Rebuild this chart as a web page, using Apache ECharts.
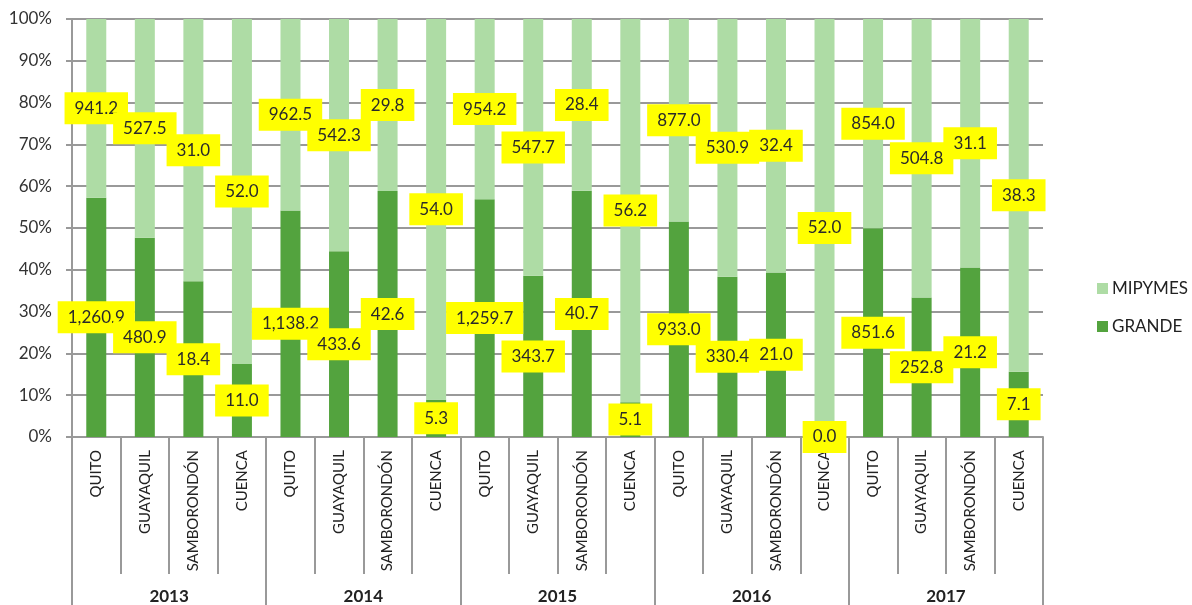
<!DOCTYPE html>
<html>
<head>
<meta charset="utf-8">
<script src="https://cdn.jsdelivr.net/npm/echarts@6/dist/echarts.min.js"></script>
<style>html,body{margin:0;padding:0;background:#fff;}#c{width:1192px;height:605px;}</style>
</head>
<body>
<div id="c"></div>
<script>
var years = ['2013', '2014', '2015', '2016', '2017'];
var cities = ['QUITO', 'GUAYAQUIL', 'SAMBORONDÓN', 'CUENCA'];
var grande = [1260.9, 480.9, 18.4, 11.0, 1138.2, 433.6, 42.6, 5.3, 1259.7, 343.7, 40.7, 5.1, 933.0, 330.4, 21.0, 0.0, 851.6, 252.8, 21.2, 7.1];
var mipymes = [941.2, 527.5, 31.0, 52.0, 962.5, 542.3, 29.8, 54.0, 954.2, 547.7, 28.4, 56.2, 877.0, 530.9, 32.4, 52.0, 854.0, 504.8, 31.1, 38.3];
var yTicks = [0, 10, 20, 30, 40, 50, 60, 70, 80, 90, 100];

var cats = [];
years.forEach(function (y) { cities.forEach(function (c) { cats.push(c); }); });

function pctData(arr) {
  return arr.map(function (v, i) {
    var tot = grande[i] + mipymes[i];
    return { value: tot ? v / tot * 100 : 0, raw: v };
  });
}
function fmt(v) {
  return v.toLocaleString('en-US', { minimumFractionDigits: 1, maximumFractionDigits: 1 });
}
var FONT = 'Lato, "Open Sans", sans-serif';
var labelCfg = {
  show: true,
  position: 'inside',
  formatter: function (p) { return fmt(p.data.raw); },
  backgroundColor: '#FFFF00',
  color: '#2a2a2a',
  fontSize: 17,
  fontFamily: FONT,
  padding: [8, 10, 7, 10]
};

var chart = echarts.init(document.getElementById('c'));
chart.setOption({
  animation: false,
  textStyle: { fontFamily: FONT },
  grid: { left: 72, right: 149, top: 19, bottom: 168, containLabel: false },
  legend: {
    orient: 'vertical',
    left: 1092,
    top: 275,
    itemWidth: 11,
    itemHeight: 11,
    itemGap: 21,
    icon: 'rect',
    data: ['MIPYMES', 'GRANDE'],
    textStyle: { fontSize: 17, color: '#222', fontFamily: FONT, padding: [0, 0, 0, -1] }
  },
  xAxis: [
    {
      type: 'category',
      data: cats,
      axisLine: { lineStyle: { color: '#999', width: 2 } },
      axisTick: { show: true, length: 137, lineStyle: { color: '#999', width: 2 } },
      axisLabel: { rotate: 90, margin: 13, fontSize: 15, color: '#222', fontFamily: FONT, interval: 0 }
    },
    {
      type: 'category',
      data: years,
      position: 'bottom',
      axisLine: { show: false },
      axisTick: { show: true, length: 170, lineStyle: { color: '#999', width: 2 } },
      axisLabel: { margin: 151, fontSize: 17, color: '#222', fontWeight: 'bold', fontFamily: FONT, interval: 0 }
    }
  ],
  yAxis: {
    type: 'value',
    min: 0,
    max: 100,
    interval: 10,
    axisLine: { show: true, lineStyle: { color: '#999', width: 2 } },
    axisTick: { show: true, length: 6, lineStyle: { color: '#999', width: 2 } },
    splitLine: { lineStyle: { color: '#999', width: 2 } },
    axisLabel: {
      margin: 20, fontSize: 17, color: '#333', fontFamily: FONT,
      formatter: function (v) { return yTicks.indexOf(v) >= 0 ? v + '%' : ''; }
    }
  },
  series: [
    {
      name: 'GRANDE', type: 'bar', stack: 'all', xAxisIndex: 0,
      barWidth: 20,
      itemStyle: { color: '#53A33E' },
      data: pctData(grande),
      label: labelCfg
    },
    {
      name: 'MIPYMES', type: 'bar', stack: 'all', xAxisIndex: 0,
      barWidth: 20,
      itemStyle: { color: '#AEDCA5' },
      data: pctData(mipymes),
      label: labelCfg
    }
  ]
});
</script>
</body>
</html>
